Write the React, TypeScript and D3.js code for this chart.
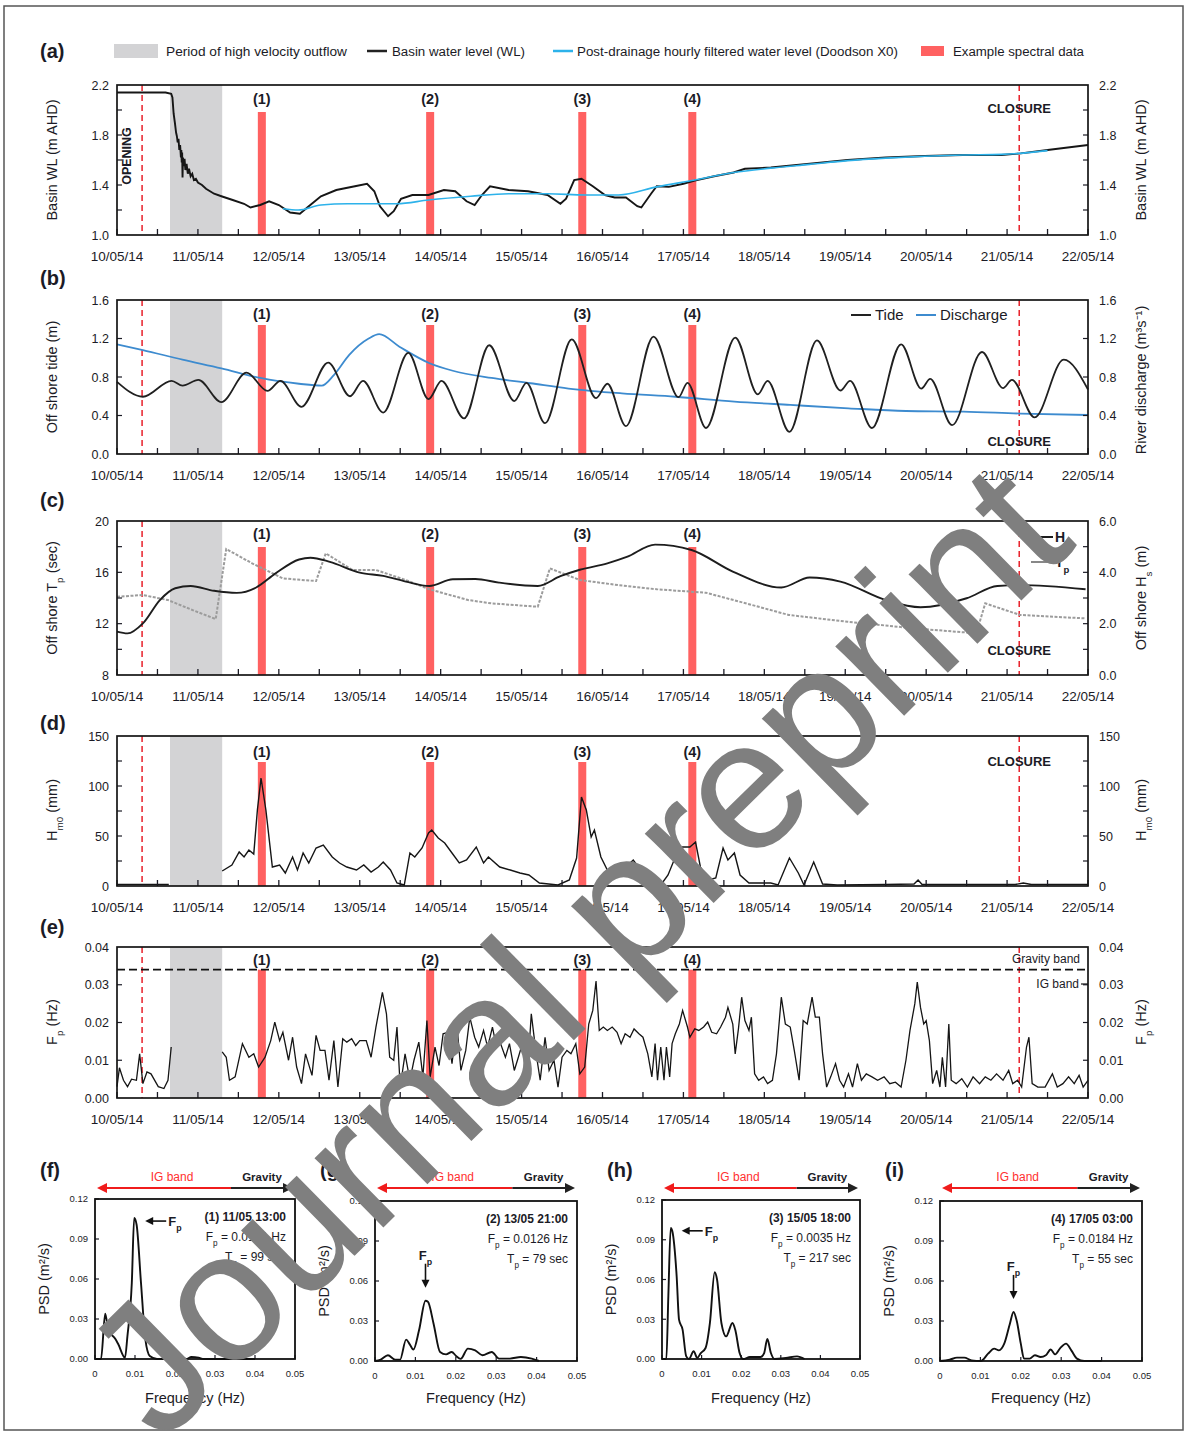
import React from "react";
import * as d3 from "d3";

type Pt = [number, number];

const FONT = "'Liberation Sans', Arial, sans-serif";
const INK = "#1b1b26";
const RED = "#ff6161";
const SHADE = "#d3d3d5";
const CYAN = "#2db2ea";
const BLUE = "#3d8bcf";

// ---------- shared time axis ----------
const dateLabels = ["10/05/14", "11/05/14", "12/05/14", "13/05/14", "14/05/14", "15/05/14", "16/05/14",
  "17/05/14", "18/05/14", "19/05/14", "20/05/14", "21/05/14", "22/05/14"];
const openingDay = 0.31;
const closureDay = 11.15;
const outflowPeriod: Pt = [0.655, 1.3];
const spectralDays = [1.79, 3.87, 5.75, 7.11];
const spectralTags = ["(1)", "(2)", "(3)", "(4)"];

// ---------- (a) basin water level ----------
const basinWL: Pt[] = [[0, 2.14], [0.3, 2.14], [0.6, 2.14], [0.67, 2.13], [0.685, 2.1], [0.7, 1.97], [0.715, 1.9],
  [0.73, 1.82], [0.74, 1.79], [0.75, 1.74], [0.76, 1.77], [0.77, 1.68], [0.78, 1.72], [0.79, 1.62], [0.795, 1.68],
  [0.8, 1.58], [0.805, 1.66], [0.81, 1.46], [0.815, 1.62], [0.825, 1.55], [0.835, 1.61], [0.845, 1.52], [0.86, 1.57],
  [0.875, 1.49], [0.89, 1.53], [0.91, 1.47], [0.93, 1.49], [0.95, 1.44], [0.975, 1.45], [1.0, 1.42], [1.05, 1.4],
  [1.1, 1.37], [1.15, 1.35], [1.2, 1.33], [1.29, 1.31], [1.43, 1.28], [1.57, 1.25], [1.65, 1.22], [1.77, 1.24],
  [1.88, 1.27], [2.0, 1.24], [2.14, 1.18], [2.26, 1.17], [2.37, 1.23], [2.52, 1.31], [2.71, 1.36], [2.94, 1.39],
  [3.09, 1.41], [3.18, 1.35], [3.25, 1.23], [3.35, 1.15], [3.42, 1.19], [3.51, 1.29], [3.65, 1.32], [3.85, 1.32],
  [4.04, 1.36], [4.18, 1.35], [4.32, 1.27], [4.42, 1.24], [4.51, 1.32], [4.61, 1.39], [4.84, 1.36], [5.08, 1.35],
  [5.32, 1.32], [5.48, 1.25], [5.55, 1.29], [5.65, 1.44], [5.74, 1.45], [5.88, 1.39], [6.03, 1.32], [6.15, 1.3],
  [6.29, 1.3], [6.43, 1.23], [6.48, 1.22], [6.6, 1.33], [6.67, 1.39], [6.82, 1.385], [7.0, 1.41], [7.14, 1.435],
  [7.38, 1.47], [7.62, 1.5], [7.76, 1.53], [8.08, 1.54], [8.56, 1.57], [9.03, 1.6], [9.5, 1.62], [9.98, 1.632],
  [10.45, 1.64], [10.93, 1.64], [11.17, 1.653], [11.5, 1.68], [12, 1.72]];
const filteredWL: Pt[] = [[2.05, 1.21], [2.24, 1.2], [2.52, 1.24], [2.85, 1.25], [3.18, 1.25], [3.46, 1.25],
  [3.85, 1.28], [4.37, 1.31], [4.84, 1.33], [5.32, 1.33], [5.79, 1.32], [6.2, 1.32], [6.67, 1.385], [7.14, 1.44],
  [7.62, 1.5], [8.08, 1.535], [8.56, 1.565], [9.03, 1.595], [9.5, 1.615], [9.98, 1.63], [10.45, 1.64],
  [10.93, 1.645], [11.2, 1.655], [11.5, 1.675]];

// ---------- (b) tide and discharge ----------
const tide: Pt[] = [[0, 0.75], [0.32, 0.595], [0.675, 0.76], [0.81, 0.71], [1.006, 0.77], [1.29, 0.54], [1.6, 0.845],
  [1.86, 0.655], [2.02, 0.76], [2.28, 0.49], [2.61, 0.95], [2.88, 0.6], [3.04, 0.76], [3.29, 0.43], [3.6, 1.05],
  [3.85, 0.57], [4.01, 0.76], [4.29, 0.37], [4.6, 1.13], [4.91, 0.55], [5.06, 0.74], [5.29, 0.32], [5.62, 1.19],
  [5.92, 0.58], [6.06, 0.73], [6.29, 0.29], [6.63, 1.22], [6.94, 0.59], [7.05, 0.74], [7.28, 0.27], [7.64, 1.21],
  [7.92, 0.62], [8.04, 0.76], [8.31, 0.23], [8.65, 1.18], [8.94, 0.66], [9.06, 0.76], [9.33, 0.27], [9.69, 1.14],
  [9.94, 0.68], [10.05, 0.78], [10.32, 0.3], [10.69, 1.06], [10.95, 0.685], [11.06, 0.77], [11.34, 0.38],
  [11.7, 0.98], [12, 0.67]];
const discharge: Pt[] = [[0, 1.14], [0.32, 1.08], [0.81, 0.98], [1.29, 0.89], [1.77, 0.79], [2.25, 0.73],
  [2.53, 0.71], [2.68, 0.82], [2.87, 1.03], [3.11, 1.2], [3.24, 1.245], [3.49, 1.115], [3.87, 0.94], [4.15, 0.865],
  [4.63, 0.79], [5.11, 0.735], [5.58, 0.68], [6.24, 0.63], [6.9, 0.595], [7.63, 0.545], [8.32, 0.51], [9.04, 0.475],
  [9.75, 0.447], [10.46, 0.44], [11.17, 0.42], [12, 0.405]];

// ---------- (c) offshore waves ----------
const waveHs: Pt[] = [[0, 1.69], [0.13, 1.62], [0.32, 2.01], [0.53, 2.92], [0.72, 3.38], [0.91, 3.47], [1.2, 3.28],
  [1.48, 3.2], [1.72, 3.41], [1.96, 3.96], [2.25, 4.5], [2.39, 4.57], [2.63, 4.41], [3.0, 3.99], [3.29, 3.86],
  [3.57, 3.64], [3.86, 3.47], [4.15, 3.73], [4.43, 3.74], [4.72, 3.6], [5.2, 3.47], [5.48, 3.85], [5.72, 4.1],
  [6.06, 4.35], [6.3, 4.6], [6.65, 5.08], [7.1, 4.87], [7.61, 4.03], [8.21, 3.41], [8.56, 3.8], [8.94, 3.64],
  [9.5, 2.92], [9.93, 2.64], [10.5, 2.99], [10.88, 3.47], [11.16, 3.5], [11.97, 3.34]];
const waveTp: Pt[] = [[0, 14.1], [0.32, 14.23], [0.63, 13.84], [0.91, 13.12], [1.22, 12.36], [1.35, 17.82],
  [1.67, 16.7], [2.05, 15.53], [2.46, 15.32], [2.58, 17.48], [2.91, 16.18], [3.2, 16.18], [3.57, 15.4],
  [3.86, 14.68], [4.34, 13.84], [4.63, 13.58], [5.2, 13.32], [5.35, 16.31], [5.72, 15.4], [6.2, 15.0],
  [6.67, 14.68], [7.28, 14.41], [7.85, 13.45], [8.3, 12.68], [9.03, 12.15], [9.84, 11.64], [10.62, 11.25],
  [10.73, 13.58], [11.16, 12.68], [11.97, 12.41]];

// ---------- (d) IG wave height Hm0 (mm) ----------
const hm0: Pt[] = [[0, 1.5], [0.3, 1.5], [0.64, 1.5], [0.66, NaN], [1.3, 15], [1.42, 21], [1.51, 34], [1.57, 29],
  [1.63, 36], [1.69, 32], [1.735, 76], [1.78, 108], [1.84, 76], [1.92, 19], [2.01, 21], [2.08, 13], [2.17, 29],
  [2.23, 16], [2.3, 33], [2.37, 23], [2.46, 38], [2.55, 41], [2.66, 29], [2.75, 23], [2.84, 19], [2.96, 16],
  [3.05, 21], [3.14, 14], [3.23, 19], [3.29, 24], [3.38, 16], [3.46, 3], [3.55, 1], [3.62, 33], [3.68, 29],
  [3.77, 38], [3.85, 53], [3.89, 56], [3.97, 48], [4.05, 43], [4.14, 33], [4.23, 23], [4.32, 26], [4.44, 39],
  [4.53, 23], [4.59, 29], [4.73, 19], [4.86, 16], [4.98, 13], [5.09, 11], [5.22, 3], [5.45, 1], [5.59, 6],
  [5.68, 28], [5.74, 89], [5.8, 76], [5.86, 49], [5.9, 56], [5.98, 29], [6.09, 11], [6.18, 9], [6.29, 19],
  [6.38, 26], [6.47, 16], [6.56, 4], [6.65, 9], [6.72, 1], [6.81, 11], [6.9, 29], [6.99, 39], [7.08, 39],
  [7.15, 44], [7.21, 19], [7.31, 6], [7.4, 8], [7.49, 38], [7.55, 26], [7.63, 33], [7.7, 11], [7.81, 3],
  [8.08, 3], [8.17, 1], [8.31, 28], [8.42, 13], [8.49, 1], [8.61, 24], [8.72, 2], [8.9, 1], [9.5, 1.5],
  [9.85, 2], [9.9, 6], [9.95, 1.5], [10.5, 1.5], [11.1, 1.5], [11.2, 3], [11.3, 1.5], [12, 1.5]];

// ---------- (e) IG peak frequency Fp (Hz) ----------
const gravityLimit = 0.034;
const fpSeries: Pt[] = [[0, 0.003], [0.03, 0.008], [0.08, 0.0047], [0.13, 0.003], [0.18, 0.005], [0.24, 0.0047],
  [0.28, 0.0117], [0.32, 0.0038], [0.37, 0.0069], [0.42, 0.0064], [0.51, 0.003], [0.58, 0.0025], [0.63, 0.0047],
  [0.67, 0.0135], [0.68, NaN], [1.3, 0.0122], [1.35, 0.0108], [1.39, 0.0047], [1.46, 0.0056], [1.55, 0.0144],
  [1.63, 0.0108], [1.69, 0.0117], [1.75, 0.0082], [1.83, 0.0108], [1.9, 0.0152], [1.95, 0.0201], [2.01, 0.0152],
  [2.05, 0.0174], [2.12, 0.01], [2.17, 0.0161], [2.22, 0.0082], [2.28, 0.0038], [2.33, 0.0117], [2.41, 0.006],
  [2.46, 0.0166], [2.51, 0.0126], [2.57, 0.0126], [2.62, 0.0047], [2.68, 0.0152], [2.73, 0.0029], [2.79, 0.0157],
  [2.84, 0.0148], [2.9, 0.0157], [2.95, 0.0139], [3.0, 0.0152], [3.08, 0.0152], [3.14, 0.0108], [3.2, 0.0188],
  [3.28, 0.028], [3.33, 0.0223], [3.37, 0.0108], [3.42, 0.01], [3.46, 0.0188], [3.5, 0.0029], [3.56, 0.0117],
  [3.62, 0.0047], [3.67, 0.01], [3.73, 0.0148], [3.78, 0.0056], [3.83, 0.0205], [3.87, 0.0056], [3.93, 0.0135],
  [3.98, 0.0086], [4.03, 0.017], [4.09, 0.0174], [4.14, 0.0091], [4.2, 0.0196], [4.25, 0.0073], [4.31, 0.0126],
  [4.36, 0.0214], [4.42, 0.0161], [4.47, 0.0135], [4.53, 0.0179], [4.58, 0.0135], [4.64, 0.0188], [4.69, 0.0135],
  [4.74, 0.0144], [4.8, 0.0108], [4.85, 0.0144], [4.91, 0.0073], [4.96, 0.0108], [5.02, 0.0152], [5.07, 0.0056],
  [5.12, 0.0223], [5.18, 0.0117], [5.23, 0.0047], [5.29, 0.0161], [5.34, 0.0073], [5.4, 0.01], [5.45, 0.0029],
  [5.5, 0.0108], [5.56, 0.0126], [5.61, 0.0117], [5.67, 0.0144], [5.72, 0.0064], [5.78, 0.0082], [5.83, 0.0196],
  [5.88, 0.0232], [5.92, 0.031], [5.96, 0.0179], [6.01, 0.0188], [6.06, 0.0179], [6.12, 0.0188], [6.18, 0.0174],
  [6.23, 0.0144], [6.28, 0.017], [6.34, 0.0161], [6.39, 0.0183], [6.45, 0.017], [6.5, 0.0161], [6.56, 0.0117],
  [6.61, 0.0056], [6.65, 0.0144], [6.68, 0.0047], [6.72, 0.0135], [6.76, 0.0047], [6.79, 0.0135], [6.83, 0.0056],
  [6.86, 0.0144], [6.9, 0.017], [6.95, 0.0196], [6.99, 0.0232], [7.05, 0.0188], [7.08, 0.0161], [7.14, 0.0183],
  [7.19, 0.0179], [7.25, 0.0188], [7.3, 0.0201], [7.35, 0.0174], [7.41, 0.017], [7.46, 0.0188], [7.52, 0.0214],
  [7.55, 0.024], [7.61, 0.0196], [7.64, 0.0117], [7.68, 0.0183], [7.72, 0.0267], [7.76, 0.0205], [7.81, 0.0179],
  [7.84, 0.0214], [7.88, 0.0064], [7.93, 0.0047], [7.99, 0.0056], [8.04, 0.0038], [8.1, 0.0047], [8.15, 0.0117],
  [8.21, 0.0267], [8.26, 0.0196], [8.32, 0.0188], [8.37, 0.0126], [8.43, 0.0047], [8.48, 0.0205], [8.53, 0.0196],
  [8.59, 0.0267], [8.63, 0.0214], [8.68, 0.0214], [8.72, 0.0117], [8.77, 0.0029], [8.82, 0.0056], [8.88, 0.0091],
  [8.93, 0.0047], [8.98, 0.0029], [9.04, 0.0064], [9.09, 0.0029], [9.15, 0.0091], [9.2, 0.0047], [9.26, 0.0064],
  [9.33, 0.0056], [9.4, 0.0047], [9.48, 0.0056], [9.55, 0.0038], [9.62, 0.0042], [9.69, 0.0029], [9.75, 0.01],
  [9.8, 0.0179], [9.86, 0.025], [9.89, 0.0307], [9.93, 0.024], [9.97, 0.0196], [10.0, 0.0205], [10.04, 0.0152],
  [10.08, 0.0038], [10.13, 0.0073], [10.17, 0.0029], [10.2, 0.0108], [10.24, 0.0029], [10.28, 0.0196],
  [10.31, 0.0047], [10.37, 0.0038], [10.44, 0.0051], [10.51, 0.0029], [10.58, 0.0056], [10.66, 0.0038],
  [10.73, 0.0056], [10.8, 0.0047], [10.87, 0.0064], [10.95, 0.0047], [11.02, 0.0073], [11.07, 0.0038],
  [11.13, 0.0047], [11.18, 0.0029], [11.24, 0.0135], [11.27, 0.0161], [11.31, 0.0038], [11.38, 0.0029],
  [11.47, 0.0029], [11.56, 0.0064], [11.62, 0.0029], [11.69, 0.0038], [11.76, 0.0056], [11.83, 0.0038],
  [11.89, 0.006], [11.94, 0.0029], [12, 0.0047]];

// ---------- (f)-(i) example spectra (freq Hz, PSD m²/s) ----------
const spectrum1: Pt[] = [[0, 0], [0.0015, 0], [0.00255, 0.034], [0.0033, 0.022], [0.0051, 0.015], [0.0058, 0.0112],
  [0.0075, 0.001], [0.0081, 0.017], [0.0092, 0.057], [0.0098, 0.1057], [0.0104, 0.1007], [0.0115, 0.057],
  [0.0126, 0.0145], [0.0137, 0.0022], [0.0155, 0], [0.018, 0], [0.0201, 0.002], [0.0214, 0.002], [0.0228, 0],
  [0.0241, 0.0015], [0.0259, 0.001], [0.0272, 0], [0.03, 0], [0.04, 0]];
const spectrum2: Pt[] = [[0, 0], [0.0014, 0.001], [0.0032, 0.0043], [0.005, 0.001], [0.0062, 0.001], [0.0077, 0.016],
  [0.0086, 0.0125], [0.0095, 0.0086], [0.0109, 0.023], [0.0125, 0.0452], [0.0131, 0.0445], [0.0145, 0.028],
  [0.0161, 0.0068], [0.0176, 0.005], [0.019, 0.0068], [0.02, 0.004], [0.0212, 0.0016], [0.023, 0.0093],
  [0.0248, 0.008], [0.0266, 0.0043], [0.0289, 0.0068], [0.0307, 0.0018], [0.0334, 0.0018], [0.0361, 0.003],
  [0.0388, 0.0018], [0.0406, 0]];
const spectrum3: Pt[] = [[0, 0], [0.0011, 0], [0.0016, 0.0474], [0.0022, 0.099], [0.0026, 0.0966], [0.0037, 0.0625],
  [0.0043, 0.0297], [0.0052, 0.0222], [0.0061, 0.0022], [0.0068, 0], [0.008, 0.0058], [0.0089, 0.0008],
  [0.0098, 0.0045], [0.011, 0.0083], [0.0121, 0.0272], [0.0133, 0.0655], [0.0139, 0.06], [0.015, 0.0272],
  [0.0162, 0.0171], [0.0178, 0.0272], [0.0185, 0.022], [0.0196, 0.0045], [0.0205, 0], [0.0222, 0.0015],
  [0.0249, 0.0015], [0.0258, 0.0045], [0.0266, 0.0151], [0.0275, 0.0045], [0.0284, 0], [0.0313, 0.0008],
  [0.0341, 0.002], [0.036, 0]];
const spectrum4: Pt[] = [[0, 0], [0.0024, 0.001], [0.0042, 0.0025], [0.006, 0.0025], [0.0078, 0.0005], [0.0101, 0],
  [0.0119, 0.0055], [0.0134, 0.0093], [0.0146, 0.008], [0.0159, 0.013], [0.0173, 0.028], [0.0182, 0.0368],
  [0.019, 0.03], [0.02, 0.013], [0.0208, 0.0018], [0.0222, 0.0018], [0.0235, 0.0043], [0.0249, 0.003],
  [0.0262, 0.0043], [0.0274, 0.0086], [0.0285, 0.005], [0.0298, 0.0098], [0.0312, 0.013], [0.0325, 0.008],
  [0.0339, 0.0018], [0.0357, 0], [0.04, 0]];
const spectraLetters = ["(f)", "(g)", "(h)", "(i)"];
const spectraTimes = ["(1) 11/05 13:00", "(2) 13/05 21:00", "(3) 15/05 18:00", "(4) 17/05 03:00"];
const spectraFp = ["0.0101", "0.0126", "0.0035", "0.0184"];
const spectraTp = ["99", "79", "217", "55"];
const fpArrowDir = ["left", "down", "left", "down"];
const psdTicks = [0, 0.03, 0.06, 0.09, 0.12];
const freqTicks = [0, 0.01, 0.02, 0.03, 0.04, 0.05];

// ---------- layout ----------
const X0 = 117, X1 = 1088;
const x = d3.scaleLinear().domain([0, 12]).range([X0, X1]);

function pathOf(pts: Pt[], sx: (v: number) => number, sy: (v: number) => number, curve: d3.CurveFactory = d3.curveLinear) {
  return d3.line<Pt>().defined(d => !isNaN(d[1])).x(d => sx(d[0])).y(d => sy(d[1])).curve(curve)(pts) || "";
}

const Sub = ({ children }: { children: React.ReactNode }) => (
  <tspan baselineShift="sub" fontSize="68%">{children}</tspan>
);

type AxesProps = {
  top: number; bottom: number;
  yL: d3.ScaleLinear<number, number>; yR: d3.ScaleLinear<number, number>;
  majL: number[]; minL: number[]; majR: number[]; minR: number[];
  fmtL: (v: number) => string; fmtR: (v: number) => string;
};

function TimeAxes({ top, bottom, yL, yR, majL, minL, majR, minR, fmtL, fmtR }: AxesProps) {
  const halfDays = d3.range(0, 12.001, 0.5);
  return (
    <g fontFamily={FONT} fill={INK}>
      {halfDays.map(t => <line key={"t" + t} x1={x(t)} x2={x(t)} y1={bottom} y2={bottom - 6} stroke={INK} strokeWidth={1.3} />)}
      {minL.map(v => <line key={"l" + v} x1={X0} x2={X0 + 5} y1={yL(v)} y2={yL(v)} stroke={INK} strokeWidth={1.2} />)}
      {minR.map(v => <line key={"r" + v} x1={X1} x2={X1 - 5} y1={yR(v)} y2={yR(v)} stroke={INK} strokeWidth={1.2} />)}
      <rect x={X0} y={top} width={X1 - X0} height={bottom - top} fill="none" stroke="#151515" strokeWidth={1.7} />
      {dateLabels.map((d, i) => (
        <text key={d} x={x(i)} y={bottom + 26} textAnchor="middle" fontSize={13.5}>{d}</text>
      ))}
      {majL.map(v => <text key={"L" + v} x={X0 - 8} y={yL(v)} dy="0.36em" textAnchor="end" fontSize={12.5}>{fmtL(v)}</text>)}
      {majR.map(v => <text key={"R" + v} x={X1 + 11} y={yR(v)} dy="0.36em" fontSize={12.5}>{fmtR(v)}</text>)}
    </g>
  );
}

function Markers({ top, bottom, barTop, tagY, closureY }: { top: number; bottom: number; barTop: number; tagY: number; closureY?: number }) {
  return (
    <g>
      <rect x={x(outflowPeriod[0])} y={top} width={x(outflowPeriod[1]) - x(outflowPeriod[0])} height={bottom - top} fill={SHADE} />
      {spectralDays.map((d, i) => (
        <g key={i}>
          <rect x={x(d) - 4} y={barTop} width={8} height={bottom - barTop} fill={RED} />
          <text x={x(d)} y={tagY} textAnchor="middle" fontFamily={FONT} fontWeight="bold" fontSize={14.5} fill={INK}>{spectralTags[i]}</text>
        </g>
      ))}
      {[openingDay, closureDay].map(d => (
        <line key={d} x1={x(d)} x2={x(d)} y1={top} y2={bottom} stroke="#e8202a" strokeWidth={1.5} strokeDasharray="6 4" />
      ))}
      {closureY !== undefined && (
        <text x={x(closureDay)} y={closureY} textAnchor="middle" fontFamily={FONT} fontWeight="bold" fontSize={13} fill={INK}>CLOSURE</text>
      )}
    </g>
  );
}

const PanelLetter = ({ x: px, y, t }: { x: number; y: number; t: string }) => (
  <text x={px} y={y} fontFamily={FONT} fontWeight="bold" fontSize={20} fill={INK}>{t}</text>
);

const YTitle = ({ cx, cy, children }: { cx: number; cy: number; children: React.ReactNode }) => (
  <text transform={`translate(${cx},${cy}) rotate(-90)`} textAnchor="middle" fontFamily={FONT} fontSize={14.5} fill={INK}>{children}</text>
);

function Spectrum({ idx, data, x0, x1, y0, y1 }: { idx: number; data: Pt[]; x0: number; x1: number; y0: number; y1: number }) {
  const fx = d3.scaleLinear().domain([0, 0.05]).range([x0, x1]);
  const py = d3.scaleLinear().domain([0, 0.12]).range([y1, y0]);
  const peak = data.reduce((a, b) => (b[1] > a[1] ? b : a));
  const px = fx(peak[0]), pyv = py(peak[1]);
  const arrowY = 1188;
  const arrowXs = [fx(0) + 2, fx(gravityLimit), fx(0.05) - 2];
  const dir = fpArrowDir[idx];
  return (
    <g fontFamily={FONT} fill={INK}>
      <text x={x0 - 55} y={1177} fontWeight="bold" fontSize={20}>{spectraLetters[idx]}</text>
      {/* band arrows */}
      <line x1={arrowXs[0] + 8} x2={arrowXs[1]} y1={arrowY} y2={arrowY} stroke="#f01c1c" strokeWidth={2} />
      <path d={`M${arrowXs[0]},${arrowY} l10,-5 l0,10 z`} fill="#f01c1c" />
      <line x1={arrowXs[1]} x2={arrowXs[2] - 8} y1={arrowY} y2={arrowY} stroke="#222" strokeWidth={2} />
      <path d={`M${arrowXs[2]},${arrowY} l-10,-5 l0,10 z`} fill="#222" />
      <text x={(arrowXs[0] + arrowXs[1]) / 2 + 8} y={arrowY - 7} textAnchor="middle" fontSize={12} fill="#ff3030">IG band</text>
      <text x={(arrowXs[1] + arrowXs[2]) / 2} y={arrowY - 7} textAnchor="middle" fontSize={11.5} fontWeight="bold">Gravity</text>
      {/* ticks */}
      {freqTicks.map(f => (
        <g key={f}>
          <line x1={fx(f)} x2={fx(f)} y1={y1} y2={y1 - 4} stroke={INK} strokeWidth={1.2} />
          <text x={fx(f)} y={y1 + 18} textAnchor="middle" fontSize={9.5}>{f === 0 ? "0" : f.toFixed(2)}</text>
        </g>
      ))}
      {psdTicks.map(v => (
        <g key={v}>
          <line x1={x0} x2={x0 + 4} y1={py(v)} y2={py(v)} stroke={INK} strokeWidth={1.2} />
          <text x={x0 - 7} y={py(v)} dy="0.35em" textAnchor="end" fontSize={9.5}>{v.toFixed(2)}</text>
        </g>
      ))}
      <path d={pathOf(data, fx, py, d3.curveMonotoneX)} fill="none" stroke="#111" strokeWidth={1.9} />
      <rect x={x0} y={y0} width={x1 - x0} height={y1 - y0} fill="none" stroke="#111" strokeWidth={1.8} />
      <YTitle cx={x0 - 46} cy={(y0 + y1) / 2}>PSD (m²/s)</YTitle>
      <text x={(x0 + x1) / 2} y={1403} textAnchor="middle" fontSize={14.5}>Frequency (Hz)</text>
      {/* annotation */}
      <text x={x1 - 9} y={y0 + 22} textAnchor="end" fontSize={12} fontWeight="bold">{spectraTimes[idx]}</text>
      <text x={x1 - 9} y={y0 + 42} textAnchor="end" fontSize={12}>F<Sub>p</Sub> = {spectraFp[idx]} Hz</text>
      <text x={x1 - 9} y={y0 + 62} textAnchor="end" fontSize={12}>T<Sub>p</Sub> = {spectraTp[idx]} sec</text>
      {dir === "left" ? (
        <g>
          <line x1={px + 14} x2={px + 32} y1={pyv + 3} y2={pyv + 3} stroke="#111" strokeWidth={1.6} />
          <path d={`M${px + 11},${pyv + 3} l8,-4 l0,8 z`} fill="#111" />
          <text x={px + 34} y={pyv + 8} fontSize={13} fontWeight="bold">F<Sub>p</Sub></text>
        </g>
      ) : (
        <g>
          <line x1={px} x2={px} y1={pyv - 37} y2={pyv - 18} stroke="#111" strokeWidth={1.6} />
          <path d={`M${px},${pyv - 13} l-4,-8 l8,0 z`} fill="#111" />
          <text x={px} y={pyv - 41} textAnchor="middle" fontSize={13} fontWeight="bold">F<Sub>p</Sub></text>
        </g>
      )}
    </g>
  );
}

export default function App() {
  const ya = d3.scaleLinear().domain([1, 2.2]).range([235, 85]);
  const yb = d3.scaleLinear().domain([0, 1.6]).range([454, 300]);
  const yc = d3.scaleLinear().domain([8, 20]).range([675, 521]);
  const ycR = d3.scaleLinear().domain([0, 6]).range([675, 521]);
  const yd = d3.scaleLinear().domain([0, 150]).range([886, 736]);
  const ye = d3.scaleLinear().domain([0, 0.04]).range([1098, 947]);
  const f1 = (v: number) => v.toFixed(1);
  const f2 = (v: number) => v.toFixed(2);
  const f0 = (v: number) => v.toFixed(0);
  const spectra = [spectrum1, spectrum2, spectrum3, spectrum4];
  const boxes = [[95, 295, 1199, 1359], [375, 577, 1201, 1361], [662, 860, 1200, 1359], [940, 1142, 1201, 1361]];

  return (
    <svg width={1186} height={1435} style={{ position: "absolute", left: 0, top: 0, background: "#fff" }}>
      <rect x={0} y={0} width={1186} height={1435} fill="#fff" />
      <rect x={4} y={6} width={1179} height={1424} fill="none" stroke="#555" strokeWidth={1.5} />

      {/* ---------- (a) ---------- */}
      <PanelLetter x={40} y={58} t="(a)" />
      <g fontFamily={FONT} fontSize={12.5} fill={INK}>
        <rect x={114} y={44} width={44} height={14} fill={SHADE} />
        <text x={166} y={56} textLength={181} lengthAdjust="spacingAndGlyphs">Period of high velocity outflow</text>
        <line x1={367} x2={387} y1={51} y2={51} stroke="#222" strokeWidth={2.5} />
        <text x={392} y={56} textLength={133} lengthAdjust="spacingAndGlyphs">Basin water level (WL)</text>
        <line x1={553} x2={573} y1={51} y2={51} stroke={CYAN} strokeWidth={2.5} />
        <text x={577} y={56} textLength={321} lengthAdjust="spacingAndGlyphs">Post-drainage hourly filtered water level (Doodson X0)</text>
        <rect x={921} y={46} width={23} height={10} fill={RED} />
        <text x={953} y={56} textLength={131} lengthAdjust="spacingAndGlyphs">Example spectral data</text>
      </g>
      <Markers top={85} bottom={235} barTop={112} tagY={104} closureY={113} />
      <text transform={`translate(${x(openingDay) - 11},156) rotate(-90)`} textAnchor="middle" fontFamily={FONT} fontWeight="bold" fontSize={12.5} fill={INK}>OPENING</text>
      <path d={pathOf(basinWL, x, ya)} fill="none" stroke="#161616" strokeWidth={1.9} />
      <path d={pathOf(filteredWL, x, ya, d3.curveMonotoneX)} fill="none" stroke={CYAN} strokeWidth={1.6} />
      <TimeAxes top={85} bottom={235} yL={ya} yR={ya} majL={[1, 1.4, 1.8, 2.2]} minL={[1.2, 1.4, 1.6, 1.8, 2.0]}
        majR={[1, 1.4, 1.8, 2.2]} minR={[1.2, 1.4, 1.6, 1.8, 2.0]} fmtL={f1} fmtR={f1} />
      <YTitle cx={57} cy={160}>Basin WL (m AHD)</YTitle>
      <YTitle cx={1146} cy={160}>Basin WL (m AHD)</YTitle>

      {/* ---------- (b) ---------- */}
      <PanelLetter x={40} y={285} t="(b)" />
      <Markers top={300} bottom={454} barTop={325} tagY={319} closureY={446} />
      <path d={pathOf(discharge, x, yb, d3.curveMonotoneX)} fill="none" stroke={BLUE} strokeWidth={1.8} />
      <path d={pathOf(tide, x, yb, d3.curveMonotoneX)} fill="none" stroke="#202020" strokeWidth={1.8} />
      <g fontFamily={FONT} fontSize={15} fill={INK}>
        <line x1={851} x2={871} y1={315} y2={315} stroke="#222" strokeWidth={2} />
        <text x={875} y={320}>Tide</text>
        <line x1={916} x2={936} y1={315} y2={315} stroke={BLUE} strokeWidth={2} />
        <text x={940} y={320}>Discharge</text>
      </g>
      <TimeAxes top={300} bottom={454} yL={yb} yR={yb} majL={[0, 0.4, 0.8, 1.2, 1.6]} minL={[0.4, 0.8, 1.2]}
        majR={[0, 0.4, 0.8, 1.2, 1.6]} minR={[0.4, 0.8, 1.2]} fmtL={f1} fmtR={f1} />
      <YTitle cx={57} cy={377}>Off shore tide (m)</YTitle>
      <YTitle cx={1146} cy={380}>River discharge (m³s⁻¹)</YTitle>

      {/* ---------- (c) ---------- */}
      <PanelLetter x={40} y={507} t="(c)" />
      <Markers top={521} bottom={675} barTop={547} tagY={539} closureY={655} />
      <path d={pathOf(waveTp, x, yc)} fill="none" stroke="#9c9c9c" strokeWidth={2} strokeDasharray="3 1.5" />
      <path d={pathOf(waveHs, x, ycR, d3.curveMonotoneX)} fill="none" stroke="#1d1d1d" strokeWidth={1.9} />
      <g fontFamily={FONT} fontSize={14} fontWeight="bold" fill={INK}>
        <line x1={1031} x2={1053} y1={537} y2={537} stroke="#1d1d1d" strokeWidth={2} />
        <text x={1055} y={542}>H<Sub>s</Sub></text>
        <line x1={1031} x2={1053} y1={562} y2={562} stroke="#888" strokeWidth={2} />
        <text x={1055} y={567}>T<Sub>p</Sub></text>
      </g>
      <TimeAxes top={521} bottom={675} yL={yc} yR={ycR} majL={[8, 12, 16, 20]} minL={[10, 12, 14, 16, 18]}
        majR={[0, 2, 4, 6]} minR={[1, 2, 3, 4, 5]} fmtL={f0} fmtR={f1} />
      <YTitle cx={57} cy={598}>Off shore T<Sub>p</Sub> (sec)</YTitle>
      <YTitle cx={1146} cy={598}>Off shore H<Sub>s</Sub> (m)</YTitle>

      {/* ---------- (d) ---------- */}
      <PanelLetter x={40} y={730} t="(d)" />
      <Markers top={736} bottom={886} barTop={762} tagY={757} closureY={766} />
      <path d={pathOf(hm0, x, yd)} fill="none" stroke="#151515" strokeWidth={1.4} />
      <TimeAxes top={736} bottom={886} yL={yd} yR={yd} majL={[0, 50, 100, 150]} minL={[25, 50, 75, 100, 125]}
        majR={[0, 50, 100, 150]} minR={[25, 50, 75, 100, 125]} fmtL={f0} fmtR={f0} />
      <YTitle cx={57} cy={810}>H<Sub>m0</Sub> (mm)</YTitle>
      <YTitle cx={1146} cy={810}>H<Sub>m0</Sub> (mm)</YTitle>

      {/* ---------- (e) ---------- */}
      <PanelLetter x={40} y={934} t="(e)" />
      <Markers top={947} bottom={1098} barTop={ye(gravityLimit)} tagY={965} />
      <path d={pathOf(fpSeries, x, ye)} fill="none" stroke="#151515" strokeWidth={1.3} />
      <line x1={X0} x2={X1} y1={ye(gravityLimit)} y2={ye(gravityLimit)} stroke="#111" strokeWidth={1.8} strokeDasharray="8 4" />
      <g fontFamily={FONT} fontSize={12} fill={INK} textAnchor="end">
        <text x={1080} y={963}>Gravity band</text>
        <text x={1079} y={988}>IG band</text>
      </g>
      <line x1={1081} x2={1088} y1={984} y2={984} stroke="#111" strokeWidth={1.2} />
      <TimeAxes top={947} bottom={1098} yL={ye} yR={ye} majL={[0, 0.01, 0.02, 0.03, 0.04]} minL={[0.01, 0.02, 0.03]}
        majR={[0, 0.01, 0.02, 0.03, 0.04]} minR={[0.01, 0.02, 0.03]} fmtL={f2} fmtR={f2} />
      <YTitle cx={57} cy={1022}>F<Sub>p</Sub> (Hz)</YTitle>
      <YTitle cx={1146} cy={1022}>F<Sub>p</Sub> (Hz)</YTitle>

      {/* ---------- (f)-(i) ---------- */}
      {spectra.map((s, i) => (
        <Spectrum key={i} idx={i} data={s} x0={boxes[i][0]} x1={boxes[i][1]} y0={boxes[i][2]} y1={boxes[i][3]} />
      ))}

      {/* watermark */}
      <text transform="translate(620,995) rotate(-44.5)" textAnchor="middle" fontFamily={FONT} fontSize={185} fill="#7f7f7f">Journal preprint</text>
    </svg>
  );
}
